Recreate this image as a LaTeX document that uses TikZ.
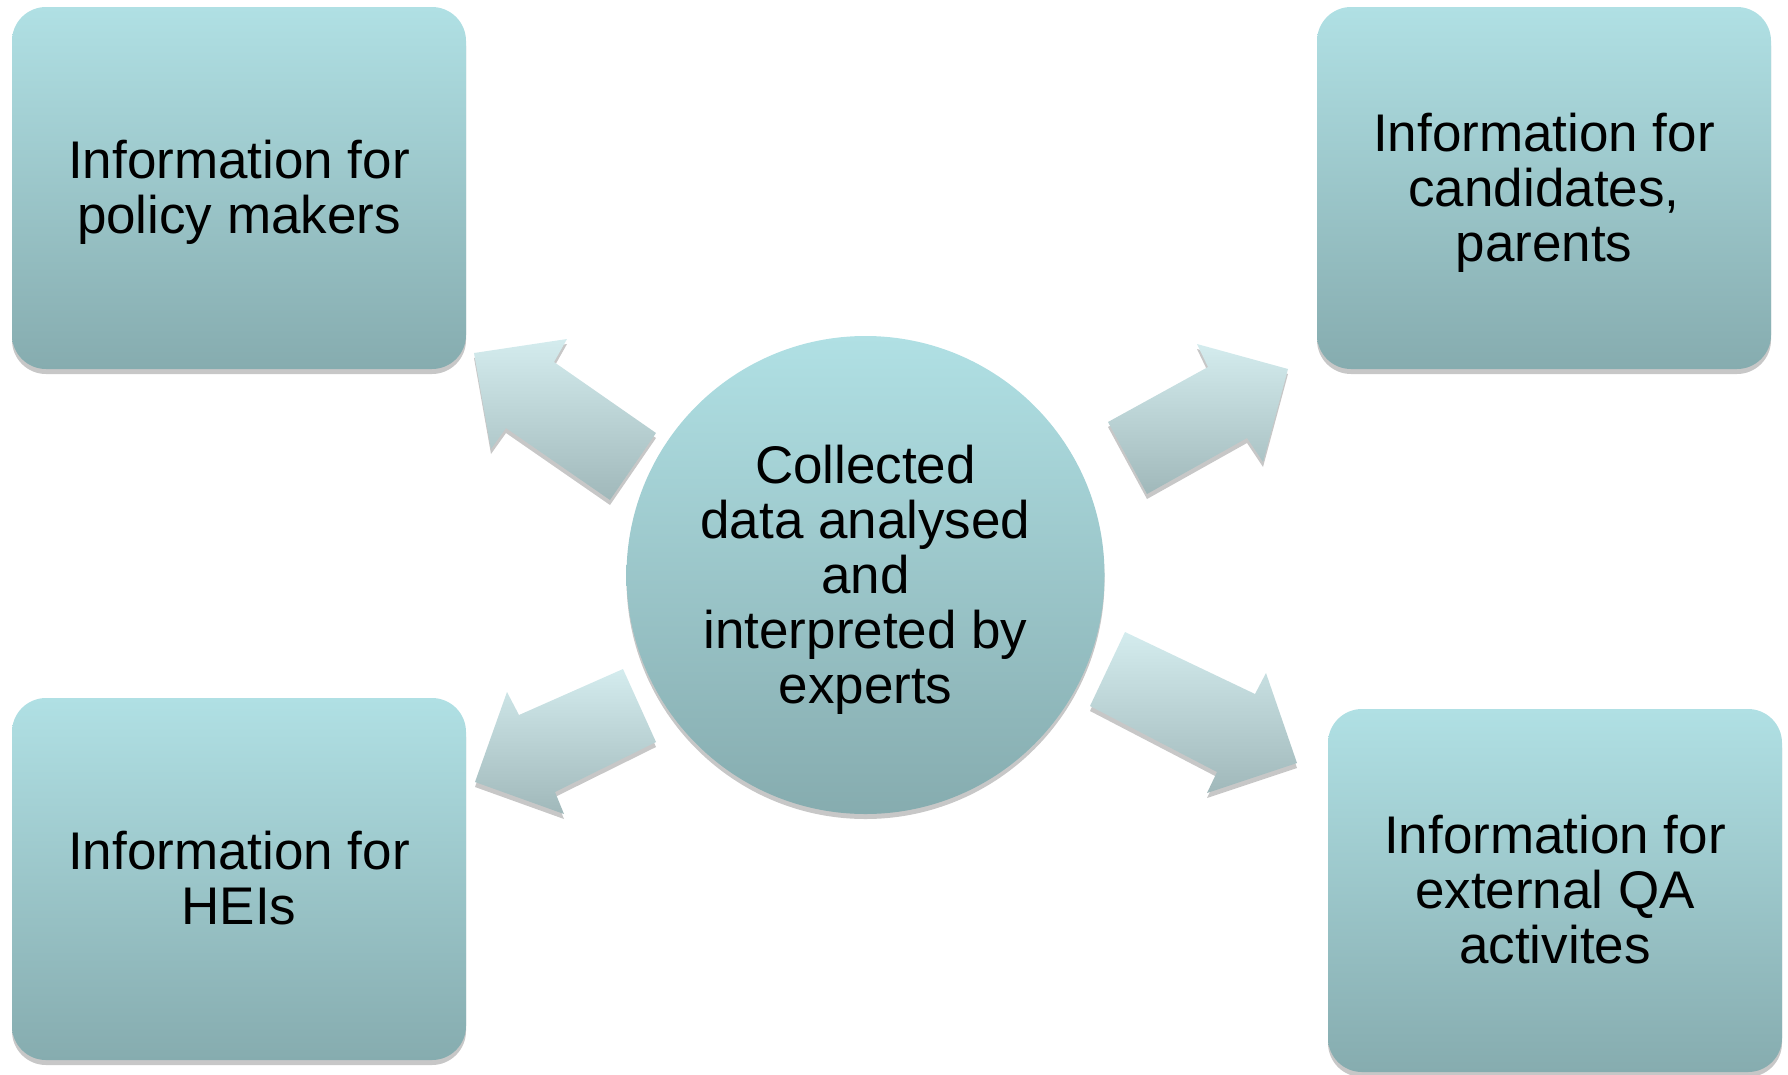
\documentclass[tikz,border=0pt]{standalone}
\usepackage{fontspec}
\setmainfont{Liberation Sans}
\usetikzlibrary{shadows}
\definecolor{boxtop}{HTML}{B0E0E4}
\definecolor{boxbot}{HTML}{86ACAF}
\definecolor{arrtop}{HTML}{D4ECEE}
\definecolor{arrbot}{HTML}{A0B8BA}
\newcommand{\tstr}{\rule{0pt}{48pt}}
\newcommand{\bstr}{\rule[-11.2pt]{0pt}{11.2pt}}
\tikzset{
  softshadow/.style={drop shadow={shadow xshift=0pt, shadow yshift=-5pt, opacity=0.22, fill=black}},
  infobox/.style={draw=none, rounded corners=34pt, minimum width=454pt, minimum height=362pt,
    top color=boxtop, bottom color=boxbot, softshadow, align=center,
    font=\fontsize{53pt}{55pt}\selectfont, inner sep=0pt},
  hub/.style={circle, draw=none, minimum size=478pt, top color=boxtop, bottom color=boxbot,
    softshadow, align=center, font=\fontsize{53pt}{55pt}\selectfont, inner sep=0pt},
  blockarrow/.style={draw=none, top color=arrtop, bottom color=arrbot, softshadow}
}
\begin{document}
\begin{tikzpicture}[x=1pt, y=-1pt]
\useasboundingbox (0,0) rectangle (1788,1074);
% arrows
\path[blockarrow] (474,353) -- (567,339) -- (554,362) -- (656,433) -- (610,500) -- (506,428) -- (491,449) -- cycle;
\path[blockarrow] (1288,369) -- (1197,344) -- (1208,367) -- (1108,422) -- (1147,494) -- (1247,438) -- (1263,462) -- cycle;
\path[blockarrow] (475,782) -- (507,692) -- (519,715) -- (623,669) -- (656,742) -- (555,792) -- (564,814) -- cycle;
\path[blockarrow] (1297,763) -- (1266,673) -- (1255,694) -- (1125,632) -- (1090,706) -- (1217,772) -- (1207,793) -- cycle;
% boxes
\node[infobox] (pm) at (239,188) {\tstr Information for\\policy makers\bstr};
\node[infobox] (cand) at (1544,188) {\tstr Information for\\candidates,\\parents\bstr};
\node[infobox] (hei) at (239,879) {\tstr Information for\\HEIs\bstr};
\node[infobox, minimum height=363pt] (qa) at (1555,890.5) {\tstr Information for\\external QA\\activites\bstr};
\node[hub] (hubnode) at (865.5,575) {\tstr Collected\\data analysed\\and\\interpreted by\\experts\bstr};
\end{tikzpicture}
\end{document}
